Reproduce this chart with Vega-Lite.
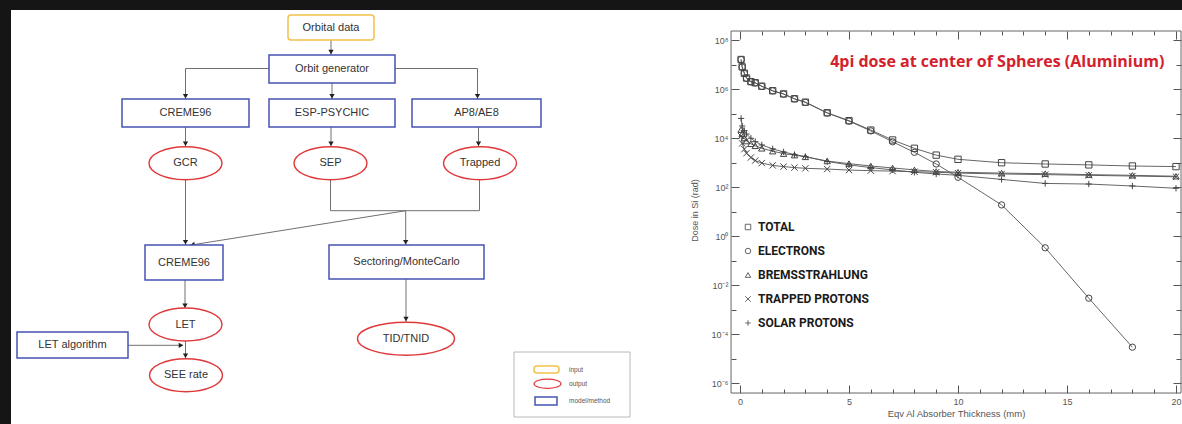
{
  "$schema": "https://vega.github.io/schema/vega-lite/v6.json",
  "background": "#151515",
  "padding": {"left": 11, "top": 10, "right": 0, "bottom": 0},
  "spacing": 0,
  "bounds": "flush",
  "config": {"view": {"stroke": null}, "axis": {"grid": false, "zindex": 1}},
  "datasets": {
    "edges": [
      {"x": 331, "y": 40, "x2": 331, "y2": 55},
      {"x": 269, "y": 68.5, "x2": 185.5, "y2": 68.5},
      {"x": 185.5, "y": 68.5, "x2": 185.5, "y2": 99},
      {"x": 332, "y": 83, "x2": 332, "y2": 99},
      {"x": 395, "y": 68.5, "x2": 477.5, "y2": 68.5},
      {"x": 477.5, "y": 68.5, "x2": 477.5, "y2": 99},
      {"x": 185.5, "y": 127, "x2": 185.5, "y2": 146.7},
      {"x": 331, "y": 127, "x2": 331, "y2": 146.7},
      {"x": 478.5, "y": 127, "x2": 478.5, "y2": 146.7},
      {"x": 185.5, "y": 180, "x2": 185.5, "y2": 245},
      {"x": 330.5, "y": 180, "x2": 330.5, "y2": 210.7},
      {"x": 330.5, "y": 210.7, "x2": 479.5, "y2": 210.7},
      {"x": 479.5, "y": 180, "x2": 479.5, "y2": 210.7},
      {"x": 405.7, "y": 210.7, "x2": 405.7, "y2": 245},
      {"x": 405.7, "y": 210.7, "x2": 189.4, "y2": 245.3},
      {"x": 185, "y": 280, "x2": 185, "y2": 308.7},
      {"x": 406, "y": 279, "x2": 406, "y2": 322},
      {"x": 185.5, "y": 340.3, "x2": 185.5, "y2": 358.7},
      {"x": 128, "y": 345.3, "x2": 183, "y2": 345.3}
    ],
    "arrows": [
      {"x": 331, "y": 52, "dir": "down"},
      {"x": 185.5, "y": 96.3, "dir": "down"},
      {"x": 332, "y": 96.3, "dir": "down"},
      {"x": 477.5, "y": 96.3, "dir": "down"},
      {"x": 185.5, "y": 143.7, "dir": "down"},
      {"x": 331, "y": 143.7, "dir": "down"},
      {"x": 478.5, "y": 143.7, "dir": "down"},
      {"x": 185.5, "y": 242.3, "dir": "down"},
      {"x": 405.7, "y": 242.3, "dir": "down"},
      {"x": 192.4, "y": 244.8, "dir": "diag"},
      {"x": 185, "y": 305.7, "dir": "down"},
      {"x": 406, "y": 319, "dir": "down"},
      {"x": 185.5, "y": 355.7, "dir": "down"},
      {"x": 181, "y": 345.3, "dir": "right"}
    ],
    "boxes": [
      {"label": "Orbital data", "kind": "input", "x1": 288, "x2": 374, "y1": 15, "y2": 40},
      {"label": "Orbit generator", "kind": "model", "x1": 269, "x2": 395, "y1": 55, "y2": 83},
      {"label": "CREME96", "kind": "model", "x1": 122, "x2": 249, "y1": 99, "y2": 127},
      {"label": "ESP-PSYCHIC", "kind": "model", "x1": 269, "x2": 395, "y1": 99, "y2": 127},
      {"label": "AP8/AE8", "kind": "model", "x1": 412, "x2": 541, "y1": 99, "y2": 127},
      {"label": "CREME96", "kind": "model", "x1": 145, "x2": 223, "y1": 245, "y2": 280},
      {"label": "Sectoring/MonteCarlo", "kind": "model", "x1": 329, "x2": 484, "y1": 245, "y2": 279},
      {"label": "LET algorithm", "kind": "model", "x1": 17, "x2": 128, "y1": 332, "y2": 358},
      {"label": "", "kind": "input", "x1": 534, "x2": 559, "y1": 366, "y2": 373},
      {"label": "", "kind": "model", "x1": 535, "x2": 557, "y1": 397, "y2": 405}
    ],
    "legendbox": [{"x1": 514, "x2": 630, "y1": 352, "y2": 417}],
    "ellipses": [
      {"label": "GCR", "kind": "std", "x": 185.5, "y": 163.3},
      {"label": "SEP", "kind": "std", "x": 330.5, "y": 163.3},
      {"label": "Trapped", "kind": "std", "x": 480, "y": 163.3},
      {"label": "LET", "kind": "std", "x": 185.5, "y": 324.5},
      {"label": "SEE rate", "kind": "std", "x": 186, "y": 375.3},
      {"label": "TID/TNID", "kind": "wide", "x": 406, "y": 338.7},
      {"label": "", "kind": "small", "x": 547.5, "y": 383.8}
    ],
    "legendtext": [
      {"t": "input", "x": 569, "y": 369.5},
      {"t": "output", "x": 569, "y": 383.7},
      {"t": "model/method", "x": 569, "y": 401}
    ],
    "frame": [{"x1": -0.41, "x2": 20.23, "y1": 3.9e-7, "y2": 2.33e8}],
    "title": [{"t": "4pi dose at center of Spheres (Aluminium)", "x": 11.8, "y": 1.26e7}],
    "series": [
      {"s": "TOTAL", "x": 0.05, "y": 1.6e7}, {"s": "TOTAL", "x": 0.1, "y": 8.0e6}, {"s": "TOTAL", "x": 0.2, "y": 4.4e6},
      {"s": "TOTAL", "x": 0.3, "y": 2.8e6}, {"s": "TOTAL", "x": 0.5, "y": 2.0e6}, {"s": "TOTAL", "x": 0.7, "y": 1.8e6},
      {"s": "TOTAL", "x": 1, "y": 1.3e6}, {"s": "TOTAL", "x": 1.5, "y": 8.5e5}, {"s": "TOTAL", "x": 2, "y": 6.3e5},
      {"s": "TOTAL", "x": 2.5, "y": 4.0e5}, {"s": "TOTAL", "x": 3, "y": 2.9e5}, {"s": "TOTAL", "x": 4, "y": 1.07e5},
      {"s": "TOTAL", "x": 5, "y": 5.1e4}, {"s": "TOTAL", "x": 6, "y": 2.1e4}, {"s": "TOTAL", "x": 7, "y": 8.3e3},
      {"s": "TOTAL", "x": 8, "y": 3.8e3}, {"s": "TOTAL", "x": 9, "y": 2.0e3}, {"s": "TOTAL", "x": 10, "y": 1350},
      {"s": "TOTAL", "x": 12, "y": 980}, {"s": "TOTAL", "x": 14, "y": 870}, {"s": "TOTAL", "x": 16, "y": 800},
      {"s": "TOTAL", "x": 18, "y": 720}, {"s": "TOTAL", "x": 20, "y": 680},
      {"s": "ELECTRONS", "x": 0.05, "y": 1.58e7}, {"s": "ELECTRONS", "x": 0.1, "y": 7.9e6}, {"s": "ELECTRONS", "x": 0.2, "y": 4.35e6},
      {"s": "ELECTRONS", "x": 0.3, "y": 2.75e6}, {"s": "ELECTRONS", "x": 0.5, "y": 1.97e6}, {"s": "ELECTRONS", "x": 0.7, "y": 1.77e6},
      {"s": "ELECTRONS", "x": 1, "y": 1.28e6}, {"s": "ELECTRONS", "x": 1.5, "y": 8.4e5}, {"s": "ELECTRONS", "x": 2, "y": 6.2e5},
      {"s": "ELECTRONS", "x": 2.5, "y": 3.95e5}, {"s": "ELECTRONS", "x": 3, "y": 2.85e5}, {"s": "ELECTRONS", "x": 4, "y": 1.05e5},
      {"s": "ELECTRONS", "x": 5, "y": 4.9e4}, {"s": "ELECTRONS", "x": 6, "y": 1.95e4}, {"s": "ELECTRONS", "x": 7, "y": 7.0e3},
      {"s": "ELECTRONS", "x": 8, "y": 2.6e3}, {"s": "ELECTRONS", "x": 9, "y": 870}, {"s": "ELECTRONS", "x": 10, "y": 250},
      {"s": "ELECTRONS", "x": 12, "y": 18.6}, {"s": "ELECTRONS", "x": 14, "y": 0.33}, {"s": "ELECTRONS", "x": 16, "y": 0.0029},
      {"s": "ELECTRONS", "x": 18, "y": 2.9e-5},
      {"s": "BREMSSTRAHLUNG", "x": 0.05, "y": 2.2e4}, {"s": "BREMSSTRAHLUNG", "x": 0.1, "y": 1.5e4}, {"s": "BREMSSTRAHLUNG", "x": 0.2, "y": 1.0e4},
      {"s": "BREMSSTRAHLUNG", "x": 0.3, "y": 7.5e3}, {"s": "BREMSSTRAHLUNG", "x": 0.5, "y": 5.8e3}, {"s": "BREMSSTRAHLUNG", "x": 0.7, "y": 4.8e3},
      {"s": "BREMSSTRAHLUNG", "x": 1, "y": 3.8e3}, {"s": "BREMSSTRAHLUNG", "x": 1.5, "y": 2.9e3}, {"s": "BREMSSTRAHLUNG", "x": 2, "y": 2.3e3},
      {"s": "BREMSSTRAHLUNG", "x": 2.5, "y": 2.0e3}, {"s": "BREMSSTRAHLUNG", "x": 3, "y": 1.7e3}, {"s": "BREMSSTRAHLUNG", "x": 4, "y": 1150},
      {"s": "BREMSSTRAHLUNG", "x": 5, "y": 900}, {"s": "BREMSSTRAHLUNG", "x": 6, "y": 720}, {"s": "BREMSSTRAHLUNG", "x": 7, "y": 600},
      {"s": "BREMSSTRAHLUNG", "x": 8, "y": 500}, {"s": "BREMSSTRAHLUNG", "x": 9, "y": 430}, {"s": "BREMSSTRAHLUNG", "x": 10, "y": 400},
      {"s": "BREMSSTRAHLUNG", "x": 12, "y": 370}, {"s": "BREMSSTRAHLUNG", "x": 14, "y": 350}, {"s": "BREMSSTRAHLUNG", "x": 16, "y": 320},
      {"s": "BREMSSTRAHLUNG", "x": 18, "y": 300}, {"s": "BREMSSTRAHLUNG", "x": 20, "y": 275},
      {"s": "TRAPPED PROTONS", "x": 0.05, "y": 1.2e4}, {"s": "TRAPPED PROTONS", "x": 0.1, "y": 6.0e3}, {"s": "TRAPPED PROTONS", "x": 0.2, "y": 3.5e3},
      {"s": "TRAPPED PROTONS", "x": 0.3, "y": 2.4e3}, {"s": "TRAPPED PROTONS", "x": 0.5, "y": 1.6e3}, {"s": "TRAPPED PROTONS", "x": 0.7, "y": 1.2e3},
      {"s": "TRAPPED PROTONS", "x": 1, "y": 950}, {"s": "TRAPPED PROTONS", "x": 1.5, "y": 760}, {"s": "TRAPPED PROTONS", "x": 2, "y": 680},
      {"s": "TRAPPED PROTONS", "x": 2.5, "y": 620}, {"s": "TRAPPED PROTONS", "x": 3, "y": 580}, {"s": "TRAPPED PROTONS", "x": 4, "y": 540},
      {"s": "TRAPPED PROTONS", "x": 5, "y": 490}, {"s": "TRAPPED PROTONS", "x": 6, "y": 465}, {"s": "TRAPPED PROTONS", "x": 7, "y": 445},
      {"s": "TRAPPED PROTONS", "x": 8, "y": 420}, {"s": "TRAPPED PROTONS", "x": 9, "y": 400}, {"s": "TRAPPED PROTONS", "x": 10, "y": 370},
      {"s": "TRAPPED PROTONS", "x": 12, "y": 340}, {"s": "TRAPPED PROTONS", "x": 14, "y": 320}, {"s": "TRAPPED PROTONS", "x": 16, "y": 300},
      {"s": "TRAPPED PROTONS", "x": 18, "y": 280}, {"s": "TRAPPED PROTONS", "x": 20, "y": 262},
      {"s": "SOLAR PROTONS", "x": 0.05, "y": 6.3e4}, {"s": "SOLAR PROTONS", "x": 0.1, "y": 3.1e4}, {"s": "SOLAR PROTONS", "x": 0.2, "y": 2.0e4},
      {"s": "SOLAR PROTONS", "x": 0.3, "y": 1.45e4}, {"s": "SOLAR PROTONS", "x": 0.5, "y": 9.8e3}, {"s": "SOLAR PROTONS", "x": 0.7, "y": 7.1e3},
      {"s": "SOLAR PROTONS", "x": 1, "y": 5.2e3}, {"s": "SOLAR PROTONS", "x": 1.5, "y": 3.6e3}, {"s": "SOLAR PROTONS", "x": 2, "y": 2.7e3},
      {"s": "SOLAR PROTONS", "x": 2.5, "y": 2.1e3}, {"s": "SOLAR PROTONS", "x": 3, "y": 1750}, {"s": "SOLAR PROTONS", "x": 4, "y": 1100},
      {"s": "SOLAR PROTONS", "x": 5, "y": 800}, {"s": "SOLAR PROTONS", "x": 6, "y": 620}, {"s": "SOLAR PROTONS", "x": 7, "y": 500},
      {"s": "SOLAR PROTONS", "x": 8, "y": 400}, {"s": "SOLAR PROTONS", "x": 9, "y": 340}, {"s": "SOLAR PROTONS", "x": 10, "y": 300},
      {"s": "SOLAR PROTONS", "x": 12, "y": 204}, {"s": "SOLAR PROTONS", "x": 14, "y": 140}, {"s": "SOLAR PROTONS", "x": 16, "y": 132},
      {"s": "SOLAR PROTONS", "x": 18, "y": 110}, {"s": "SOLAR PROTONS", "x": 20, "y": 89}
    ]
  },
  "hconcat": [
    {
      "width": 669,
      "height": 414,
      "view": {"fill": "white", "stroke": null},
      "layer": [
        {
          "data": {"name": "edges"},
          "mark": {"type": "rule", "color": "#707070", "strokeWidth": 1},
          "encoding": {
            "x": {"field": "x", "type": "quantitative", "scale": {"domain": [11, 680], "nice": false, "zero": false}, "axis": null},
            "y": {"field": "y", "type": "quantitative", "scale": {"domain": [10, 424], "nice": false, "zero": false, "reverse": true}, "axis": null},
            "x2": {"field": "x2"},
            "y2": {"field": "y2"}
          }
        },
        {
          "data": {"name": "arrows"},
          "transform": [{"filter": "datum.dir == 'down'"}],
          "mark": {"type": "point", "shape": "triangle-down", "size": 28, "filled": true, "color": "#222", "opacity": 1},
          "encoding": {
            "x": {"field": "x", "type": "quantitative", "scale": {"domain": [11, 680], "nice": false, "zero": false}, "axis": null},
            "y": {"field": "y", "type": "quantitative", "scale": {"domain": [10, 424], "nice": false, "zero": false, "reverse": true}, "axis": null}
          }
        },
        {
          "data": {"name": "arrows"},
          "transform": [{"filter": "datum.dir == 'right'"}],
          "mark": {"type": "point", "shape": "triangle-right", "size": 28, "filled": true, "color": "#222", "opacity": 1},
          "encoding": {
            "x": {"field": "x", "type": "quantitative", "scale": {"domain": [11, 680], "nice": false, "zero": false}, "axis": null},
            "y": {"field": "y", "type": "quantitative", "scale": {"domain": [10, 424], "nice": false, "zero": false, "reverse": true}, "axis": null}
          }
        },
        {
          "data": {"name": "arrows"},
          "transform": [{"filter": "datum.dir == 'diag'"}],
          "mark": {"type": "point", "shape": "triangle-down", "size": 28, "angle": 81, "filled": true, "color": "#222", "opacity": 1},
          "encoding": {
            "x": {"field": "x", "type": "quantitative", "scale": {"domain": [11, 680], "nice": false, "zero": false}, "axis": null},
            "y": {"field": "y", "type": "quantitative", "scale": {"domain": [10, 424], "nice": false, "zero": false, "reverse": true}, "axis": null}
          }
        },
        {
          "data": {"name": "legendbox"},
          "mark": {"type": "rect", "fill": "white", "stroke": "#b8b8b8", "strokeWidth": 1},
          "encoding": {
            "x": {"field": "x1", "type": "quantitative", "scale": {"domain": [11, 680], "nice": false, "zero": false}, "axis": null},
            "x2": {"field": "x2"},
            "y": {"field": "y1", "type": "quantitative", "scale": {"domain": [10, 424], "nice": false, "zero": false, "reverse": true}, "axis": null},
            "y2": {"field": "y2"}
          }
        },
        {
          "data": {"name": "boxes"},
          "transform": [{"filter": "datum.kind == 'input'"}],
          "mark": {"type": "rect", "fill": "white", "stroke": "#f2c14a", "strokeWidth": 1.5, "cornerRadius": 3},
          "encoding": {
            "x": {"field": "x1", "type": "quantitative", "scale": {"domain": [11, 680], "nice": false, "zero": false}, "axis": null},
            "x2": {"field": "x2"},
            "y": {"field": "y1", "type": "quantitative", "scale": {"domain": [10, 424], "nice": false, "zero": false, "reverse": true}, "axis": null},
            "y2": {"field": "y2"}
          }
        },
        {
          "data": {"name": "boxes"},
          "transform": [{"filter": "datum.kind == 'model'"}],
          "mark": {"type": "rect", "fill": "white", "stroke": "#4653b3", "strokeWidth": 1.5},
          "encoding": {
            "x": {"field": "x1", "type": "quantitative", "scale": {"domain": [11, 680], "nice": false, "zero": false}, "axis": null},
            "x2": {"field": "x2"},
            "y": {"field": "y1", "type": "quantitative", "scale": {"domain": [10, 424], "nice": false, "zero": false, "reverse": true}, "axis": null},
            "y2": {"field": "y2"}
          }
        },
        {
          "data": {"name": "ellipses"},
          "transform": [{"filter": "datum.kind == 'std'"}],
          "mark": {"type": "point", "shape": "M-1,0C-1,-0.25,-0.552,-0.452,0,-0.452C0.552,-0.452,1,-0.25,1,0C1,0.25,0.552,0.452,0,0.452C-0.552,0.452,-1,0.25,-1,0Z", "size": 5329, "filled": true, "fill": "white", "stroke": "#e0393b", "strokeWidth": 1.4, "opacity": 1},
          "encoding": {
            "x": {"field": "x", "type": "quantitative", "scale": {"domain": [11, 680], "nice": false, "zero": false}, "axis": null},
            "y": {"field": "y", "type": "quantitative", "scale": {"domain": [10, 424], "nice": false, "zero": false, "reverse": true}, "axis": null}
          }
        },
        {
          "data": {"name": "ellipses"},
          "transform": [{"filter": "datum.kind == 'wide'"}],
          "mark": {"type": "point", "shape": "M-1,0C-1,-0.188,-0.552,-0.34,0,-0.34C0.552,-0.34,1,-0.188,1,0C1,0.188,0.552,0.34,0,0.34C-0.552,0.34,-1,0.188,-1,0Z", "size": 9409, "filled": true, "fill": "white", "stroke": "#e0393b", "strokeWidth": 1.4, "opacity": 1},
          "encoding": {
            "x": {"field": "x", "type": "quantitative", "scale": {"domain": [11, 680], "nice": false, "zero": false}, "axis": null},
            "y": {"field": "y", "type": "quantitative", "scale": {"domain": [10, 424], "nice": false, "zero": false, "reverse": true}, "axis": null}
          }
        },
        {
          "data": {"name": "ellipses"},
          "transform": [{"filter": "datum.kind == 'small'"}],
          "mark": {"type": "point", "shape": "M-1,0C-1,-0.188,-0.552,-0.34,0,-0.34C0.552,-0.34,1,-0.188,1,0C1,0.188,0.552,0.34,0,0.34C-0.552,0.34,-1,0.188,-1,0Z", "size": 729, "filled": true, "fill": "white", "stroke": "#e0393b", "strokeWidth": 1.2, "opacity": 1},
          "encoding": {
            "x": {"field": "x", "type": "quantitative", "scale": {"domain": [11, 680], "nice": false, "zero": false}, "axis": null},
            "y": {"field": "y", "type": "quantitative", "scale": {"domain": [10, 424], "nice": false, "zero": false, "reverse": true}, "axis": null}
          }
        },
        {
          "data": {"name": "boxes"},
          "transform": [
            {"filter": "datum.label != ''"},
            {"calculate": "(datum.x1 + datum.x2) / 2", "as": "cx"},
            {"calculate": "(datum.y1 + datum.y2) / 2", "as": "cy"}
          ],
          "mark": {"type": "text", "font": "Liberation Sans", "fontSize": 11, "color": "#333", "align": "center", "baseline": "middle"},
          "encoding": {
            "x": {"field": "cx", "type": "quantitative", "scale": {"domain": [11, 680], "nice": false, "zero": false}, "axis": null},
            "y": {"field": "cy", "type": "quantitative", "scale": {"domain": [10, 424], "nice": false, "zero": false, "reverse": true}, "axis": null},
            "text": {"field": "label"}
          }
        },
        {
          "data": {"name": "ellipses"},
          "transform": [{"filter": "datum.label != ''"}],
          "mark": {"type": "text", "font": "Liberation Sans", "fontSize": 11, "color": "#333", "align": "center", "baseline": "middle"},
          "encoding": {
            "x": {"field": "x", "type": "quantitative", "scale": {"domain": [11, 680], "nice": false, "zero": false}, "axis": null},
            "y": {"field": "y", "type": "quantitative", "scale": {"domain": [10, 424], "nice": false, "zero": false, "reverse": true}, "axis": null},
            "text": {"field": "label"}
          }
        },
        {
          "data": {"name": "legendtext"},
          "mark": {"type": "text", "font": "Liberation Sans", "fontSize": 6.5, "color": "#555", "align": "left", "baseline": "middle"},
          "encoding": {
            "x": {"field": "x", "type": "quantitative", "scale": {"domain": [11, 680], "nice": false, "zero": false}, "axis": null},
            "y": {"field": "y", "type": "quantitative", "scale": {"domain": [10, 424], "nice": false, "zero": false, "reverse": true}, "axis": null},
            "text": {"field": "t"}
          }
        }
      ]
    },
    {
      "width": 502,
      "height": 414,
      "view": {"fill": "white", "stroke": null},
      "resolve": {"axis": {"x": "independent", "y": "independent"}},
      "layer": [
        {
          "data": {"name": "frame"},
          "mark": {"type": "rect", "fillOpacity": 0, "stroke": "#666", "strokeWidth": 1},
          "encoding": {
            "x": {"field": "x1", "type": "quantitative", "scale": {"domain": [-2.752, 20.275], "nice": false, "zero": false},
              "axis": {"orient": "bottom", "offset": -31, "domain": false, "values": [0, 5, 10, 15, 20], "tickSize": -8, "tickColor": "#555", "tickWidth": 1,
                "labelFont": "Liberation Sans", "labelFontSize": 9, "labelColor": "#555", "labelPadding": 12, "labelFlush": false, "labelOverlap": false,
                "title": "Eqv Al Absorber Thickness (mm)", "titleFont": "Liberation Sans", "titleFontSize": 9.5, "titleFontWeight": "normal", "titleColor": "#555",
                "titleX": 276, "titleY": 20, "titleAlign": "center", "titleBaseline": "middle"}},
            "x2": {"field": "x2"},
            "y": {"field": "y1", "type": "quantitative", "scale": {"type": "log", "domain": [2.123e-8, 1.677e9], "nice": false},
              "axis": {"orient": "left", "offset": -51, "domain": false, "values": [1e-6, 1e-4, 0.01, 1, 100, 10000, 1000000, 100000000], "tickSize": -8, "tickColor": "#555", "tickWidth": 1,
                "labelExpr": "'10' + replace(replace(replace(replace(replace(replace(toString(round(log(datum.value)/LN10)),'-','⁻'),'0','⁰'),'2','²'),'4','⁴'),'6','⁶'),'8','⁸')",
                "labelFont": "Liberation Sans", "labelFontSize": 9, "labelColor": "#555", "labelPadding": 11, "labelFlush": false, "labelOverlap": false,
                "title": "Dose in Si (rad)", "titleFont": "Liberation Sans", "titleFontSize": 9, "titleFontWeight": "normal", "titleColor": "#555",
                "titleX": -37, "titleY": 200, "titleAngle": -90, "titleAlign": "center", "titleBaseline": "middle"}},
            "y2": {"field": "y2"}
          }
        },
        {
          "data": {"name": "series"},
          "mark": {"type": "line", "color": "#555", "strokeWidth": 0.9},
          "encoding": {
            "x": {"field": "x", "type": "quantitative", "scale": {"domain": [-2.752, 20.275], "nice": false, "zero": false},
              "axis": {"orient": "top", "offset": -21, "domain": false, "values": [0, 5, 10, 15, 20], "tickSize": -8, "tickColor": "#555", "labels": false, "title": null}},
            "y": {"field": "y", "type": "quantitative", "scale": {"type": "log", "domain": [2.123e-8, 1.677e9], "nice": false},
              "axis": {"orient": "right", "offset": -1, "domain": false, "values": [1e-6, 1e-4, 0.01, 1, 100, 10000, 1000000, 100000000], "tickSize": -8, "tickColor": "#555", "labels": false, "title": null}},
            "detail": {"field": "s"},
            "order": {"field": "x"}
          }
        },
        {
          "data": {"name": "series"},
          "mark": {"type": "point", "filled": false, "color": "#444", "size": 40, "strokeWidth": 1, "opacity": 1},
          "encoding": {
            "x": {"field": "x", "type": "quantitative", "scale": {"domain": [-2.752, 20.275], "nice": false, "zero": false},
              "axis": {"orient": "bottom", "offset": -31, "domain": false, "values": [1, 2, 3, 4, 6, 7, 8, 9, 11, 12, 13, 14, 16, 17, 18, 19], "tickSize": -4, "tickColor": "#555", "labels": false, "title": null}},
            "y": {"field": "y", "type": "quantitative", "scale": {"type": "log", "domain": [2.123e-8, 1.677e9], "nice": false},
              "axis": {"orient": "left", "offset": -51, "domain": false, "values": [1e-5, 0.001, 0.1, 10, 1000, 100000, 10000000], "tickSize": -5, "tickColor": "#555", "labels": false, "title": null}},
            "shape": {"field": "s", "type": "nominal",
              "scale": {"domain": ["TOTAL", "ELECTRONS", "BREMSSTRAHLUNG", "TRAPPED PROTONS", "SOLAR PROTONS"],
                "range": ["square", "circle", "triangle-up", "M-1,-1L1,1M-1,1L1,-1", "M-1,0L1,0M0,-1L0,1"]},
              "legend": {"orient": "none", "legendX": 731, "legendY": 211, "title": null, "labelFont": "Roboto", "labelFontSize": 12, "labelFontWeight": "bold", "labelColor": "#1a1a1a",
                "symbolSize": 30, "symbolStrokeColor": "#666", "symbolStrokeWidth": 1, "rowPadding": 12, "labelOffset": 4}}
          }
        },
        {
          "data": {"name": "title"},
          "mark": {"type": "text", "font": "Open Sans", "fontSize": 16, "fontWeight": "bold", "color": "#d3212d", "align": "center", "baseline": "middle"},
          "encoding": {
            "x": {"field": "x", "type": "quantitative", "scale": {"domain": [-2.752, 20.275], "nice": false, "zero": false},
              "axis": {"orient": "top", "offset": -21, "domain": false, "values": [1, 2, 3, 4, 6, 7, 8, 9, 11, 12, 13, 14, 16, 17, 18, 19], "tickSize": -4, "tickColor": "#555", "labels": false, "title": null}},
            "y": {"field": "y", "type": "quantitative", "scale": {"type": "log", "domain": [2.123e-8, 1.677e9], "nice": false},
              "axis": {"orient": "right", "offset": -1, "domain": false, "values": [1e-5, 0.001, 0.1, 10, 1000, 100000, 10000000], "tickSize": -5, "tickColor": "#555", "labels": false, "title": null}},
            "text": {"field": "t"}
          }
        }
      ]
    }
  ]
}
